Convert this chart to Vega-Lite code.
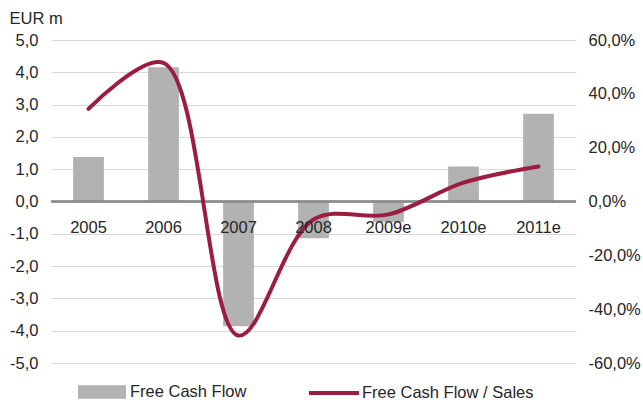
{
  "$schema": "https://vega.github.io/schema/vega-lite/v6.json",
  "width": 525,
  "height": 323,
  "autosize": {"type": "none"},
  "padding": {"left": 51, "top": 40, "right": 67, "bottom": 42},
  "background": "#ffffff",
  "config": {
    "view": {"stroke": null},
    "font": "Liberation Sans",
    "axis": {"labelFont": "Liberation Sans", "labelColor": "#262626", "titleColor": "#262626", "labelFontSize": 16.5, "labelOverlap": false},
    "legend": {"labelFont": "Liberation Sans", "labelColor": "#262626", "labelFontSize": 16.5, "labelLimit": 400}
  },
  "data": {
    "values": [
      {"year": "2005", "fcf": 1.38, "ratio": 34.4},
      {"year": "2006", "fcf": 4.16, "ratio": 51.5},
      {"year": "2007", "fcf": -3.86, "ratio": -49.8},
      {"year": "2008", "fcf": -1.14, "ratio": -6.7},
      {"year": "2009e", "fcf": -0.64, "ratio": -4.8},
      {"year": "2010e", "fcf": 1.08, "ratio": 7.0},
      {"year": "2011e", "fcf": 2.72, "ratio": 13.0}
    ]
  },
  "layer": [
    {
      "layer": [
        {
          "mark": {"type": "bar"},
          "encoding": {
            "x": {
              "field": "year", "type": "nominal", "sort": null,
              "scale": {"paddingInner": 0.59, "paddingOuter": 0.295},
              "axis": {"title": null, "domain": false, "ticks": false, "tickSize": 0, "labelAngle": 0, "labelPadding": 18, "offset": -162, "zindex": 2}
            },
            "y": {
              "field": "fcf", "type": "quantitative",
              "scale": {"domain": [-5, 5], "nice": false, "zero": false},
              "axis": {
                "title": "EUR m", "titleAngle": 0, "titleAlign": "left", "titleBaseline": "middle",
                "titleX": -42, "titleY": -22, "titleFontSize": 16.5, "titleFontWeight": "normal",
                "values": [-5, -4, -3, -2, -1, 0, 1, 2, 3, 4, 5],
                "tickCount": 11, "labelOverlap": false,
                "labelExpr": "(datum.value < 0 ? '-' : '') + replace(format(abs(datum.value), '.1f'), '.', ',')",
                "grid": true, "gridColor": "#d9d9d9", "gridWidth": 1,
                "domain": false, "ticks": false, "labelPadding": 13
              }
            },
            "fill": {
              "datum": "Free Cash Flow", "type": "nominal",
              "scale": {"range": ["#b2b2b2"]},
              "legend": {
                "orient": "none", "legendX": 27, "legendY": 328, "title": null, "padding": 0,
                "symbolType": "M-1,-0.28H1V0.28H-1Z", "symbolSize": 2304, "symbolStrokeWidth": 0,
                "symbolOpacity": 1, "labelOffset": 4
              }
            }
          }
        },
        {
          "mark": {"type": "rule", "color": "#8c8c8c", "strokeWidth": 1.5},
          "encoding": {"y": {"datum": 0, "type": "quantitative"}}
        }
      ]
    },
    {
      "mark": {"type": "line", "interpolate": "catmull-rom", "tension": 0.5, "strokeWidth": 4, "strokeCap": "round"},
      "encoding": {
        "x": {
          "field": "year", "type": "nominal", "sort": null,
          "scale": {"paddingInner": 0.59, "paddingOuter": 0.295},
          "axis": {"title": null, "domain": false, "ticks": false, "tickSize": 0, "labelAngle": 0, "labelPadding": 18, "offset": -162, "zindex": 2}
        },
        "y": {
          "field": "ratio", "type": "quantitative",
          "scale": {"domain": [-60, 60], "nice": false, "zero": false},
          "axis": {
            "orient": "right", "title": null,
            "values": [-60, -40, -20, 0, 20, 40, 60],
            "labelExpr": "(datum.value < 0 ? '-' : '') + replace(format(abs(datum.value), '.1f'), '.', ',') + '%'",
            "grid": false, "domain": false, "ticks": false, "labelPadding": 12
          }
        },
        "stroke": {
          "datum": "Free Cash Flow / Sales", "type": "nominal",
          "scale": {"range": ["#9b1d40"]},
          "legend": {
            "orient": "none", "legendX": 256, "legendY": 326, "title": null, "padding": 0,
            "symbolType": "stroke", "symbolSize": 2500, "symbolStrokeWidth": 4, "labelOffset": 1
          }
        }
      }
    }
  ],
  "resolve": {"scale": {"y": "independent"}}
}
